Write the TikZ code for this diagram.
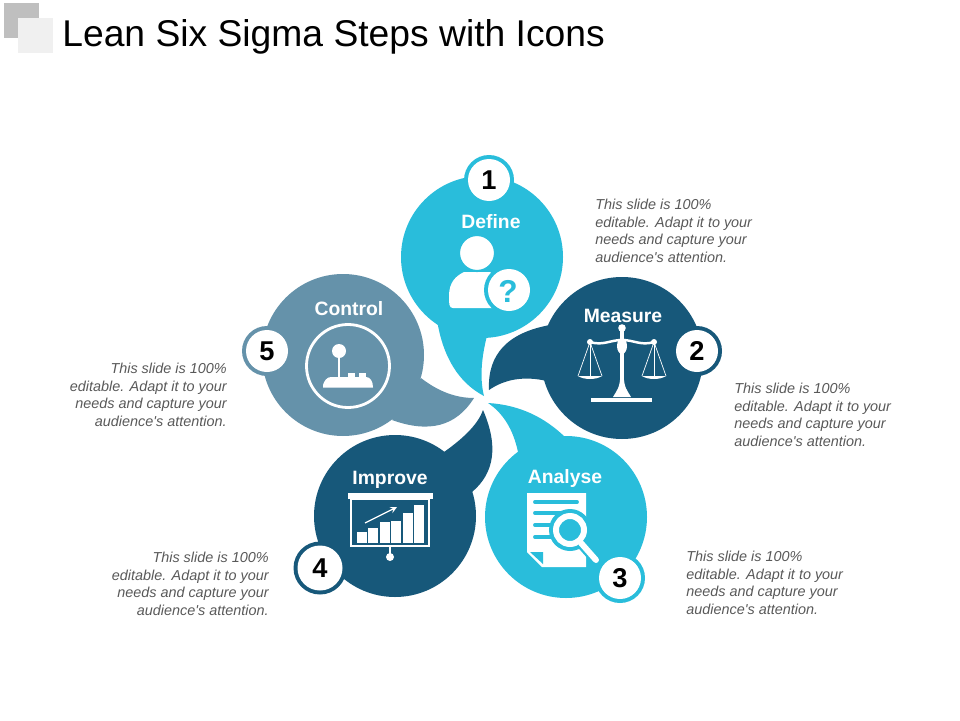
\documentclass[tikz,border=0pt]{standalone}
\usepackage{fontspec}
\setmainfont{Liberation Sans}[Ligatures=TeXOff]
\definecolor{cyanbub}{HTML}{29BDDB}
\definecolor{darkbub}{HTML}{17587A}
\definecolor{greybub}{HTML}{6592AA}
\definecolor{notegrey}{HTML}{595959}
\newcommand{\notetext}{This slide is 100\%\\editable. Adapt it to your\\needs and capture your\\audience's attention.}
\tikzset{
  bubtitle/.style={text=white,font=\fontsize{11}{13}\selectfont\bfseries,inner sep=0pt},
  badgenum/.style={text=black,font=\fontsize{15.5}{18}\selectfont\bfseries,inner sep=0pt},
  noteleft/.style={text=notegrey,font=\fontsize{8.2}{10}\selectfont\itshape,align=left,anchor=north west,inner sep=0pt},
  noteright/.style={text=notegrey,font=\fontsize{8.2}{10}\selectfont\itshape,align=right,anchor=north east,inner sep=0pt},
}
\begin{document}
\begin{tikzpicture}[x=.02cm,y=-.02cm,>=stealth]
\useasboundingbox (0,0) rectangle (960,720);

% header
\fill [black!25] (4,3) rectangle (39,38);
\fill [black!6] (18,18) rectangle (53,53);
\node (title) [anchor=west,inner sep=0pt,font=\fontsize{21.2}{24}\selectfont] at (62,37) {Lean Six Sigma Steps with Icons};

% bubbles
\fill [cyanbub] (482,257) circle[radius=81];
\fill [cyanbub] (437,320) .. controls (443,357.3) and (458.7,382.7) .. (484,396) .. controls (479.3,377.3) and (481.3,353.7) .. (490,325) -- cycle;
\fill [darkbub] (622,358) circle[radius=81];
\fill [darkbub] (550,325) .. controls (507.7,332.7) and (487.3,354.3) .. (489,390) .. controls (506.3,378) and (530,374) .. (560,385) -- cycle;
\fill [cyanbub] (566,517) circle[radius=81];
\fill [cyanbub] (566,438) .. controls (544,416.3) and (518,404.7) .. (488,403) .. controls (503.3,413.3) and (513.3,429.7) .. (518,452) -- cycle;
\fill [darkbub] (395,516) circle[radius=81];
\fill [darkbub] (472,492) .. controls (495,472.7) and (498.3,445.3) .. (483,410) .. controls (478.7,422.7) and (465.7,436.7) .. (444,452) -- cycle;
\fill [greybub] (343,355) circle[radius=81];
\fill [greybub] (421,378) .. controls (438,391.3) and (455.7,398) .. (474,398) .. controls (456,426.7) and (428.7,433.3) .. (392,420) -- cycle;

% badges
\fill [cyanbub] (489,180) circle[radius=25];
\fill [white] (489,180) circle[radius=21];
\node (num1) [badgenum] at (489,180) {1};
\fill [darkbub] (697,351) circle[radius=25];
\fill [white] (697,351) circle[radius=21];
\node (num2) [badgenum] at (697,351) {2};
\fill [cyanbub] (620,578) circle[radius=25];
\fill [white] (620,578) circle[radius=21];
\node (num3) [badgenum] at (620,578) {3};
\fill [darkbub] (320,568) circle[radius=26.5];
\fill [white] (320,568) circle[radius=22.5];
\node (num4) [badgenum] at (320,568) {4};
\fill [greybub] (267,351) circle[radius=25];
\fill [white] (267,351) circle[radius=21];
\node (num5) [badgenum] at (267,351) {5};

% titles
\node (define) [bubtitle] at (491,222) {Define};
\node (measure) [bubtitle] at (623,316) {Measure};
\node (analyse) [bubtitle] at (565,478) {Analyse};
\node (improve) [bubtitle] at (390,480) {Improve};
\node (control) [bubtitle] at (349,309) {Control};

% person with question mark
\fill [white] (453,308) .. controls (449,308) and (449,304) .. (449,296) .. controls (449,282) and (456,276) .. (464,272) -- (490,272) .. controls (498,278) and (503,290) .. (503,308) -- cycle;
\fill [white,draw=cyanbub,line width=1.2pt] (477,253) circle[radius=18];
\fill [cyanbub] (509,290) circle[radius=25];
\fill [white] (509,290) circle[radius=21];
\node (quest) [text=cyanbub,inner sep=0pt,font=\fontsize{18}{20}\selectfont\bfseries] at (508,291) {?};

% scales
\draw [white,line width=1.4pt] (590,342) .. controls (603,346) and (610,340) .. (622,340) .. controls (634,340) and (641,346) .. (654,342);
\fill [white] (622,328) circle[radius=3.8];
\fill [white] (622,346) ellipse[x radius=5,y radius=8];
\fill [white] (590,342) circle[radius=3];
\fill [white] (654,342) circle[radius=3];
\fill [white] (620.3,330) rectangle (623.7,392);
\fill [white] (620.3,375) .. controls (620,388) and (617,390) .. (613,397) -- (631,397) .. controls (627,390) and (624,388) .. (623.7,375) -- cycle;
\fill [white] (591,397.5) rectangle (652,401.5);
\draw [white,line width=.4pt] (578,376) -- (590,342) -- (602,376);
\draw [white,line width=.4pt] (590,342) -- (590,376);
\draw [white,line width=.4pt] (642,376) -- (654,342) -- (666,376);
\draw [white,line width=.4pt] (654,342) -- (654,376);
\fill [white] (578,376) .. controls (584,380) and (596,380) .. (602,376) -- (600,376) -- (580,376) -- cycle;
\fill [white] (642,376) .. controls (648,380) and (660,380) .. (666,376) -- (664,376) -- (644,376) -- cycle;

% document with magnifier
\fill [white] (527,493) -- (586,493) -- (586,567) -- (542,567) -- (527,552) -- cycle;
\fill [cyanbub] (530,552) -- (543,552) -- (543,564) -- cycle;
\draw [cyanbub,line width=2.2pt,line cap=round] (535,502) -- (577,502);
\draw [cyanbub,line width=2.2pt,line cap=round] (535,513) -- (565,513);
\draw [cyanbub,line width=2.2pt,line cap=round] (535,525) -- (552,525);
\draw [cyanbub,line width=2.2pt,line cap=round] (535,537) -- (552,537);
\fill [cyanbub] (570,530) circle[radius=21];
\draw [cyanbub,line width=6pt,line cap=round] (581,543) -- (596,560);
\draw [white,line width=3.4pt,line cap=round] (581,543) -- (596,560);
\draw [white,line width=3.4pt] (570,530) circle[radius=14];

% presentation board
\fill [white] (348,493) rectangle (433,499);
\draw [white,line width=.9pt] (351,499) rectangle (429,546);
\fill [white] (357,532) rectangle (367,543);
\fill [white] (368,528) rectangle (378,543);
\fill [white] (380,522) rectangle (390,543);
\fill [white] (391,521) rectangle (401,543);
\fill [white] (403,513) rectangle (413,543);
\fill [white] (414,505) rectangle (424,543);
\draw [white,line width=.7pt,->] (365,523) -- (397,507);
\draw [white,line width=.9pt] (390,546) -- (390,555);
\fill [white] (390,557) circle[radius=4];

% joystick
\draw [white,line width=1.6pt] (348,366) circle[radius=41.5];
\fill [white] (339,351) circle[radius=7];
\fill [white] (338,354) rectangle (340,378);
\fill [white] (323,387.5) -- (323,385) .. controls (324,381) and (327,377) .. (331,377) -- (366,377) .. controls (370,377) and (373,381) .. (373,387.5) -- cycle;
\fill [white] (348,373) rectangle (355,379);
\fill [white] (359,373) rectangle (366,379);

% notes
\node (note1) [noteleft] at (595,199) {\notetext};
\node (note2) [noteleft] at (734,383) {\notetext};
\node (note3) [noteleft] at (686,551) {\notetext};
\node (note4) [noteright] at (269,552) {\notetext};
\node (note5) [noteright] at (227,363) {\notetext};

\end{tikzpicture}
\end{document}
